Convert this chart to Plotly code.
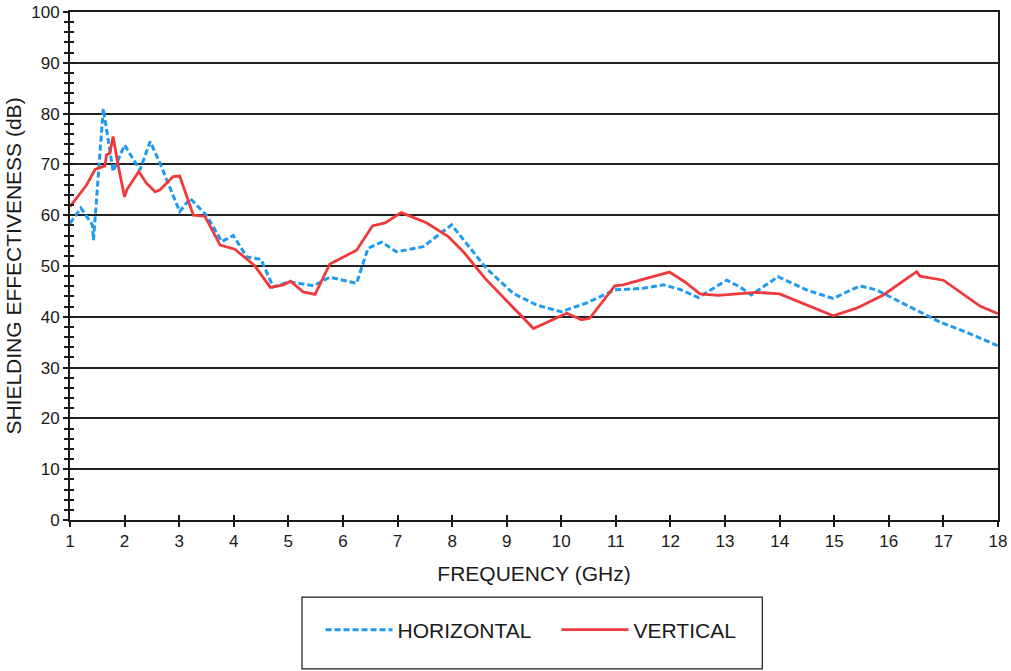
import plotly.graph_objects as go

# Horizontal polarization (blue dashed)
h_freq = [1.0, 1.2, 1.41, 1.43, 1.61, 1.79, 2.0, 2.28, 2.47, 2.65, 3.01, 3.2, 3.5, 3.78, 3.99, 4.24, 4.5,
          4.72, 5.03, 5.46, 5.76, 6.25, 6.46, 6.71, 6.98, 7.47, 7.99, 8.63, 9.12, 9.55, 10.0, 10.46,
          10.98, 11.5, 11.87, 12.17, 12.51, 13.03, 13.27, 13.48, 13.97, 14.49, 14.98, 15.47, 15.77,
          16.38, 16.93, 17.48, 18.0]
h_vals = [58.4, 61.4, 58.1, 55.1, 81.0, 68.6, 73.8, 68.9, 74.5, 70.2, 60.7, 63.3, 60.0, 54.8, 56.0, 51.8, 51.3,
          45.9, 46.9, 46.1, 47.8, 46.6, 53.5, 54.7, 52.8, 53.8, 58.1, 49.5, 44.6, 42.3, 41.0, 42.7,
          45.3, 45.6, 46.3, 45.4, 43.8, 47.2, 45.9, 44.3, 47.9, 45.3, 43.6, 46.1, 45.3,
          42.0, 39.0, 36.7, 34.3]

# Vertical polarization (red solid)
v_freq = [1.0, 1.3, 1.46, 1.64, 1.67, 1.73, 1.79, 1.88, 2.0, 2.04, 2.26, 2.4, 2.56, 2.65, 2.89, 3.01,
          3.26, 3.47, 3.75, 4.02, 4.38, 4.67, 4.91, 5.04, 5.27, 5.49, 5.76, 6.25, 6.54, 6.77, 7.07,
          7.53, 7.93, 8.23, 8.6, 9.49, 10.1, 10.37, 10.52, 10.98, 11.13, 11.98, 12.26, 12.54, 12.87,
          13.58, 14.0, 14.98, 15.41, 15.9, 16.51, 16.57, 17.0, 17.67, 18.0]
v_vals = [61.7, 65.9, 69.0, 69.7, 71.9, 72.2, 75.5, 69.9, 63.6, 65.0, 68.6, 66.3, 64.6, 65.0, 67.6, 67.7,
          60.0, 59.8, 54.1, 53.3, 50.1, 45.8, 46.3, 47.0, 44.9, 44.4, 50.4, 53.1, 57.9, 58.5, 60.5,
          58.5, 55.8, 52.5, 47.6, 37.7, 40.7, 39.4, 39.7, 46.1, 46.3, 48.8, 46.9, 44.5, 44.2,
          44.8, 44.5, 40.2, 41.7, 44.3, 48.9, 48.0, 47.2, 42.1, 40.6]

x_ticks = list(range(1, 19))
y_ticks = list(range(0, 101, 10))

FONT = "Liberation Sans, Arial, sans-serif"
INK = "#1a1a1a"

fig = go.Figure()
fig.add_trace(go.Scatter(x=h_freq, y=h_vals, mode="lines", name="HORIZONTAL",
                         line=dict(color="#1E9BF0", width=3, dash="6px,3px")))
fig.add_trace(go.Scatter(x=v_freq, y=v_vals, mode="lines", name="VERTICAL",
                         line=dict(color="#EE3A3A", width=2.8)))
# invisible trace for the inner-tick overlay axes
fig.add_trace(go.Scatter(x=[1], y=[0], xaxis="x2", yaxis="y2", mode="markers",
                         marker=dict(opacity=0), showlegend=False, hoverinfo="skip"))

fig.update_layout(
    width=1011, height=671,
    margin=dict(l=70, r=13, t=12, b=151, autoexpand=False),
    paper_bgcolor="white", plot_bgcolor="white",
    font=dict(family=FONT, color=INK, size=17),
    showlegend=True,
    legend=dict(orientation="h", x=0.270, xanchor="left", y=-0.2165, yanchor="middle",
                bgcolor="rgba(0,0,0,0)", font=dict(size=21, family=FONT, color=INK), itemwidth=67,
                entrywidth=154, traceorder="normal"),
    xaxis=dict(range=[1, 18], tickvals=x_ticks, ticktext=[str(v) for v in x_ticks],
               showgrid=False, zeroline=False, showline=True, linecolor=INK, linewidth=2,
               mirror=True, ticks="outside", ticklen=5, tickwidth=1.5, tickcolor=INK, automargin=False,
               tickfont=dict(size=17), title=dict(text="FREQUENCY (GHz)", font=dict(size=21), standoff=16)),
    yaxis=dict(range=[0, 100], tickvals=y_ticks, showgrid=True, gridcolor="#222222", gridwidth=2,
               zeroline=False, showline=True, linecolor=INK, linewidth=2, mirror=True,
               ticks="outside", ticklen=5, tickwidth=1.5, tickcolor=INK, automargin=False,
               minor=dict(dtick=2, ticks="outside", ticklen=4, tickwidth=1.5, tickcolor=INK),
               tickfont=dict(size=17),
               title=dict(text="SHIELDING EFFECTIVENESS (dB)", font=dict(size=21), standoff=4)),
    xaxis2=dict(range=[1, 18], overlaying="x", tickvals=x_ticks, showticklabels=False, showgrid=False,
                zeroline=False, ticks="inside", ticklen=5, tickwidth=1.5, tickcolor=INK, automargin=False),
    yaxis2=dict(range=[0, 100], overlaying="y", tickvals=y_ticks, showticklabels=False, showgrid=False,
                zeroline=False, ticks="inside", ticklen=5, tickwidth=1.5, tickcolor=INK, automargin=False,
                minor=dict(dtick=2, ticks="inside", ticklen=4, tickwidth=1.5, tickcolor=INK)),
    shapes=[dict(type="rect", xref="paper", yref="paper", x0=0.250, x1=0.746, y0=-0.293, y1=-0.152,
                 line=dict(color=INK, width=1.2), fillcolor="rgba(0,0,0,0)")],
)

# remove the default page margin so the 1011x671 figure fills the window exactly
fig.write_html("out.html", config={"displayModeBar": False},
               post_script="document.body.style.margin='0';document.body.style.overflow='hidden';")
